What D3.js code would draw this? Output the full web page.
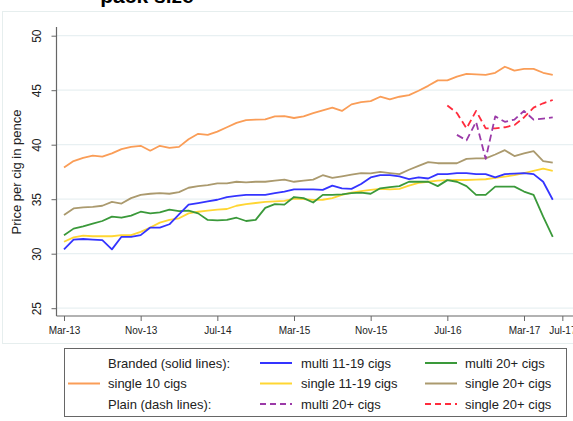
<!DOCTYPE html>
<html>
<head>
<meta charset="utf-8">
<script src="https://cdn.jsdelivr.net/npm/d3@7"></script>
<style>
  body { margin: 0; background: #fff; }
  svg { display: block; font-family: "Liberation Sans", Arial, sans-serif; }
</style>
</head>
<body>
<div id="chart"></div>
<script>
// monthly prices, Mar-13 (month 0) to Jun-17 (month 51)
const xTickMonths = [0, 8, 16, 24, 32, 40, 48, 52];
const xTickLabels = ["Mar-13", "Nov-13", "Jul-14", "Mar-15", "Nov-15", "Jul-16", "Mar-17", "Jul-17"];
const yTicks = [25, 30, 35, 40, 45, 50];

const single10 = [37.9, 38.5, 38.8, 39.0, 38.9, 39.2, 39.6, 39.8, 39.9, 39.45, 39.9, 39.7, 39.8, 40.5, 41.0, 40.9, 41.2, 41.6,
  42.0, 42.25, 42.3, 42.33, 42.6, 42.63, 42.45, 42.6, 42.9, 43.15, 43.4, 43.1, 43.7, 43.9, 44.0, 44.4, 44.15, 44.4,
  44.55, 44.95, 45.4, 45.9, 45.9, 46.25, 46.5, 46.45, 46.4, 46.6, 47.15, 46.8, 46.95, 46.95, 46.6, 46.4];
const multi1119 = [30.4, 31.3, 31.35, 31.3, 31.25, 30.4, 31.55, 31.55, 31.7, 32.4, 32.4, 32.7, 33.6, 34.5, 34.65, 34.8, 34.95, 35.2,
  35.3, 35.4, 35.4, 35.4, 35.55, 35.7, 35.9, 35.9, 35.9, 35.85, 36.25, 36.0, 35.95, 36.4, 37.0, 37.2, 37.2, 37.1,
  36.85, 37.0, 36.9, 37.3, 37.3, 37.4, 37.4, 37.3, 37.3, 37.0, 37.3, 37.35, 37.4, 37.3, 36.6, 34.95];
const single1119 = [31.1, 31.5, 31.65, 31.6, 31.6, 31.6, 31.7, 31.7, 32.0, 32.4, 32.85, 33.1, 33.25, 33.7, 33.85, 33.95, 34.05, 34.1,
  34.4, 34.55, 34.65, 34.75, 34.8, 34.85, 35.05, 35.0, 34.93, 34.95, 35.1, 35.4, 35.6, 35.75, 35.85, 35.95, 35.9, 35.95,
  36.25, 36.5, 36.6, 36.7, 36.75, 36.76, 36.76, 36.8, 36.83, 36.95, 37.07, 37.2, 37.4, 37.6, 37.8, 37.6];
const multi20 = [31.7, 32.3, 32.5, 32.75, 33.0, 33.4, 33.3, 33.5, 33.85, 33.7, 33.8, 34.05, 33.9, 33.95, 33.7, 33.1, 33.05, 33.1,
  33.3, 33.0, 33.1, 34.2, 34.55, 34.5, 35.2, 35.1, 34.7, 35.4, 35.4, 35.45, 35.55, 35.6, 35.5, 36.0, 36.1, 36.2,
  36.6, 36.6, 36.6, 36.2, 36.75, 36.6, 36.2, 35.4, 35.4, 36.15, 36.15, 36.15, 35.7, 35.4, 33.4, 31.55];
const single20 = [33.55, 34.15, 34.25, 34.3, 34.4, 34.75, 34.6, 35.1, 35.4, 35.5, 35.55, 35.5, 35.65, 36.05, 36.2, 36.3, 36.45, 36.45,
  36.6, 36.55, 36.6, 36.6, 36.7, 36.8, 36.6, 36.7, 36.8, 37.2, 36.95, 37.1, 37.25, 37.4, 37.37, 37.5, 37.4, 37.3,
  37.7, 38.05, 38.4, 38.3, 38.3, 38.3, 38.7, 38.75, 38.75, 39.1, 39.5, 38.96, 39.2, 39.4, 38.5, 38.35];
// plain packs, start later
const plainMulti20Start = 41;
const plainMulti20 = [40.9, 40.4, 42.1, 38.7, 42.6, 42.1, 42.3, 43.1, 42.3, 42.4, 42.5];
const plainSingle20Start = 40;
const plainSingle20 = [43.6, 42.9, 41.5, 43.1, 41.5, 41.5, 41.6, 41.8, 42.5, 43.4, 43.8, 44.1];

const series = [
  { values: single10, start: 0, color: "#fa9d57", dash: null },
  { values: single20, start: 0, color: "#ab9a6e", dash: null },
  { values: single1119, start: 0, color: "#ffd633", dash: null },
  { values: multi20, start: 0, color: "#3a993a", dash: null },
  { values: multi1119, start: 0, color: "#3434ff", dash: null },
  { values: plainSingle20, start: plainSingle20Start, color: "#ff2b3c", dash: "7,4" },
  { values: plainMulti20, start: plainMulti20Start, color: "#9b3aa8", dash: "7,4" }
];

const legendRows = [
  [{ text: "Branded (solid lines):" }, { text: "multi 11-19 cigs", color: "#3434ff" }, { text: "multi 20+ cigs", color: "#3a993a" }],
  [{ text: "single 10 cigs", color: "#fa9d57" }, { text: "single 11-19 cigs", color: "#ffd633" }, { text: "single 20+ cigs", color: "#ab9a6e" }],
  [{ text: "Plain (dash lines):" }, { text: "multi 20+ cigs", color: "#9b3aa8", dash: "6,4" }, { text: "single 20+ cigs", color: "#ff2b3c", dash: "6,4" }]
];

const width = 573, height = 421;
const svg = d3.select("#chart").append("svg").attr("width", width).attr("height", height);

const x = d3.scaleLinear().domain([0, 48]).range([64, 524]);
const y = d3.scaleLinear().domain([25, 50]).range([308.2, 35.7]);
const axisY = 316;
const axisX = 56.5;

// faint graph region outline
svg.append("rect")
  .attr("x", 2.5).attr("y", 11.5).attr("width", 600).attr("height", 332)
  .attr("fill", "none").attr("stroke", "#e6eeee").attr("stroke-width", 1);

// title, clipped at top
svg.append("text")
  .attr("x", 147).attr("y", 3)
  .attr("text-anchor", "middle")
  .attr("font-size", 21).attr("font-weight", "bold")
  .attr("fill", "#000")
  .text("pack size");

// gridlines
svg.append("g")
  .selectAll("line")
  .data(yTicks)
  .join("line")
  .attr("x1", axisX).attr("x2", width)
  .attr("y1", (d) => y(d)).attr("y2", (d) => y(d))
  .attr("stroke", "#e8f0f2").attr("stroke-width", 1.2);

// y axis
const gY = svg.append("g")
  .attr("transform", `translate(${axisX},0)`)
  .call(d3.axisLeft(y).tickValues(yTicks).tickSize(5).tickPadding(8).tickFormat(d3.format("d")));
gY.select(".domain").attr("d", `M0,27V${axisY}`).attr("stroke", "#666").attr("stroke-width", 1.2);
gY.selectAll(".tick line").attr("stroke", "#666");
gY.selectAll(".tick text")
  .attr("font-size", 12).attr("fill", "#222")
  .attr("transform", "rotate(-90)")
  .attr("x", 0).attr("y", -16)
  .attr("dy", 0)
  .attr("text-anchor", "middle");

svg.append("text")
  .attr("transform", "translate(21,172) rotate(-90)")
  .attr("text-anchor", "middle")
  .attr("font-size", 13).attr("fill", "#222")
  .text("Price per cig in pence");

// x axis
const gX = svg.append("g")
  .attr("transform", `translate(0,${axisY})`)
  .call(d3.axisBottom(x).tickValues(xTickMonths).tickSize(5).tickPadding(6)
    .tickFormat((d, i) => xTickLabels[i]));
gX.select(".domain").attr("d", `M${axisX},0H${width}`).attr("stroke", "#666").attr("stroke-width", 1.2);
gX.selectAll(".tick line").attr("stroke", "#666");
gX.selectAll(".tick text").attr("font-size", 10).attr("fill", "#222");

// series lines
const line = d3.line()
  .x((d) => x(d.m))
  .y((d) => y(d.v));

svg.append("g")
  .selectAll("path")
  .data(series)
  .join("path")
  .attr("d", (s) => line(s.values.map((v, i) => ({ m: s.start + i, v }))))
  .attr("fill", "none")
  .attr("stroke", (s) => s.color)
  .attr("stroke-width", 1.8)
  .attr("stroke-linejoin", "round")
  .attr("stroke-dasharray", (s) => s.dash);

// legend
const legend = svg.append("g");
legend.append("rect")
  .attr("x", 64.5).attr("y", 348.5).attr("width", 502).attr("height", 68)
  .attr("fill", "#fff").attr("stroke", "#666").attr("stroke-width", 1);

const colKeyX = [68, 260, 425];
const colTextX = [108, 301, 465];
const rowY = [363, 383.5, 404];

legendRows.forEach((row, r) => {
  row.forEach((item, c) => {
    if (item.color) {
      legend.append("line")
        .attr("x1", colKeyX[c]).attr("x2", colKeyX[c] + 32)
        .attr("y1", rowY[r]).attr("y2", rowY[r])
        .attr("stroke", item.color).attr("stroke-width", 2)
        .attr("stroke-dasharray", item.dash || null);
    }
    legend.append("text")
      .attr("x", colTextX[c]).attr("y", rowY[r])
      .attr("dy", "0.35em")
      .attr("font-size", 13).attr("fill", "#222")
      .text(item.text);
  });
});
</script>
</body>
</html>
